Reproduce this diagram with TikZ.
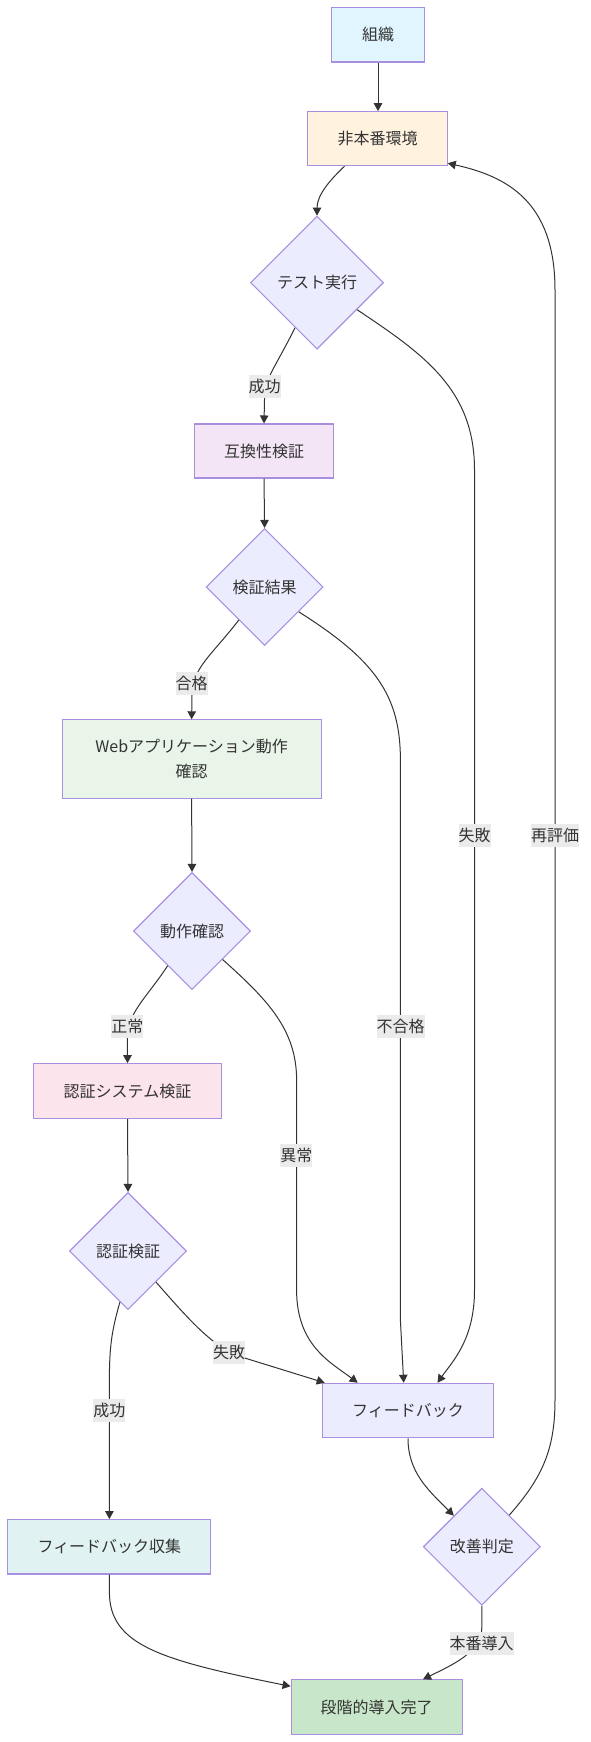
\documentclass[tikz,border=0pt]{standalone}
\usepackage{fontspec}
\setmainfont{Noto Sans CJK JP}
\usetikzlibrary{shapes.geometric,arrows.meta}
\definecolor{txt}{HTML}{333333}
\definecolor{strk}{HTML}{A88FE0}
\definecolor{cOrg}{HTML}{E1F5FE}
\definecolor{cNon}{HTML}{FFF3E0}
\definecolor{cDia}{HTML}{ECECFF}
\definecolor{cCmp}{HTML}{F3E5F5}
\definecolor{cWeb}{HTML}{E8F5E8}
\definecolor{cAut}{HTML}{FCE4EC}
\definecolor{cCol}{HTML}{E0F2F1}
\definecolor{cDon}{HTML}{C8E6C9}
\definecolor{cLbl}{HTML}{EBEBEB}
\tikzset{
  box/.style={draw=strk, line width=1.1pt, rectangle, inner sep=0pt, text=txt, align=center},
  dia/.style={draw=strk, line width=1.1pt, diamond, aspect=1, inner sep=0pt, fill=cDia, text=txt},
  edge/.style={draw=txt, line width=1pt, -{Triangle[length=8pt,width=8.5pt]}},
  elabel/.style={fill=cLbl, inner xsep=0pt, inner ysep=0pt, minimum height=23pt, text=txt}
}
\begin{document}
\begin{tikzpicture}[x=1pt,y=-1pt, font=\fontsize{16}{25}\selectfont]
\useasboundingbox (0,0) rectangle (590,1742);
% nodes
\node[box, fill=cOrg, minimum width=92.4pt, minimum height=54.7pt] (org) at (378,34.7) {組織};
\node[box, fill=cNon, minimum width=139.4pt, minimum height=54pt] (non) at (377.5,138.7) {非本番環境};
\node[dia, minimum width=133pt, minimum height=133pt] (test) at (317,282.7) {テスト実行};
\node[box, fill=cCmp, minimum width=139.3pt, minimum height=54pt] (cmp) at (264,451) {互換性検証};
\node[dia, minimum width=117pt, minimum height=117pt] (ver) at (264.6,587) {検証結果};
\node[box, fill=cWeb, minimum width=259pt, minimum height=78.3pt] (web) at (191.6,759) {Webアプリケーション動作\\確認};
\node[dia, minimum width=117pt, minimum height=117pt] (op) at (192,931) {動作確認};
\node[box, fill=cAut, minimum width=187.6pt, minimum height=54.6pt] (aut) at (127.5,1091) {認証システム検証};
\node[dia, minimum width=117pt, minimum height=117pt] (av) at (128,1251) {認証検証};
\node[box, fill=cDia, minimum width=171.5pt, minimum height=54.4pt] (fb) at (408,1410.5) {フィードバック};
\node[dia, minimum width=117pt, minimum height=117pt] (imp) at (481.8,1546.7) {改善判定};
\node[box, fill=cCol, minimum width=203pt, minimum height=54.3pt] (col) at (109.4,1546.8) {フィードバック収集};
\node[box, fill=cDon, minimum width=171pt, minimum height=54.3pt] (don) at (376.6,1707) {段階的導入完了};
% edges
\draw[edge] (org.south) -- (org.south |- non.north);
\draw[edge] ([xshift=-33pt]non.south) .. controls (330,180) and (317,195) .. (test.north);
\draw[edge] (test.-116) .. controls (274,370) and (264.5,378) .. (264.5,400) -- (cmp.north);
\draw[edge] (test.-34) .. controls (425,355) and (474.5,390) .. (474.5,470) -- (474.5,1290) .. controls (474.5,1340) and (452,1362) .. ([xshift=29.5pt]fb.north);
\draw[edge] (cmp.south) -- (ver.north);
\draw[edge] (ver.-128) .. controls (212,655) and (192,668) .. (192,695) -- (web.north);
\draw[edge] (ver.-36) .. controls (375,660) and (400.4,695) .. (400.4,760) -- (400.4,1320) -- ([xshift=-4.3pt]fb.north);
\draw[edge] (web.south) -- (op.north);
\draw[edge] (op.-125) .. controls (145,1000) and (127.4,1012) .. (127.4,1040) -- (aut.north);
\draw[edge] (op.-43) .. controls (268,1000) and (296.6,1030) .. (296.6,1080) -- (296.6,1290) .. controls (296.6,1345) and (330,1362) .. ([xshift=-50.3pt]fb.north);
\draw[edge] (aut.south) -- (av.north);
\draw[edge] (av.-99) .. controls (112,1330) and (109.4,1345) .. (109.4,1380) -- (col.north);
\draw[edge] (av.-48) .. controls (185,1315) and (208,1342) .. (235,1355) -- ([xshift=3pt]fb.north west);
\draw[edge] (fb.south) .. controls (408,1472) and (428,1490) .. (imp.132);
\draw[edge] (imp.49) .. controls (542,1478) and (555,1450) .. (555,1400) -- (555,290) .. controls (555,200) and (505,176) .. ([yshift=3pt]non.south east);
\draw[edge] (imp.south) -- (481.8,1628) .. controls (481.8,1652) and (452,1665) .. ([xshift=46.4pt]don.north);
\draw[edge] (col.south) -- (109.4,1592) .. controls (109.4,1645) and (160,1660) .. ([yshift=-7pt]don.north west);
% edge labels
\node[elabel] (l1) at (264.5,386.7) {成功};
\node[elabel] (l2) at (474.7,835) {失敗};
\node[elabel] (l3) at (555,835) {再評価};
\node[elabel] (l4) at (191.6,683) {合格};
\node[elabel] (l5) at (127.4,1026.7) {正常};
\node[elabel] (l6) at (400.5,1026.7) {不合格};
\node[elabel] (l7) at (296.4,1155.5) {異常};
\node[elabel] (l8) at (229,1352) {失敗};
\node[elabel] (l9) at (109.4,1410.8) {成功};
\node[elabel] (l10) at (481.5,1643) {本番導入};
\end{tikzpicture}
\end{document}
